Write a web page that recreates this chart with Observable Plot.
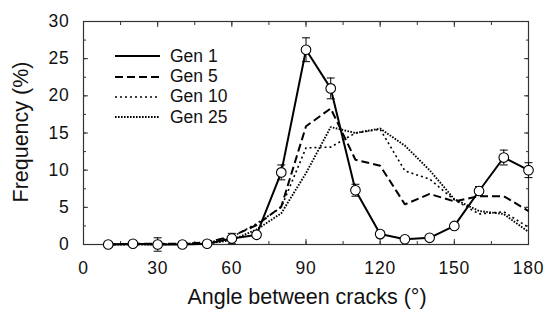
<!DOCTYPE html>
<html>
<head>
<meta charset="utf-8">
<script src="https://cdn.jsdelivr.net/npm/d3@7"></script>
<script src="https://cdn.jsdelivr.net/npm/@observablehq/plot@0.6"></script>
<style>
  html, body { margin: 0; padding: 0; background: #fff; }
  #wrap { position: relative; width: 544px; height: 309px; font-family: "Liberation Sans", Arial, sans-serif; color: #111; }
  #wrap svg text { font-size: 17.5px; fill: #111; letter-spacing: 0.8px; }
  #legend { position: absolute; left: 115px; top: 46px; font-size: 17.5px; }
  #legend .row { display: flex; align-items: center; height: 20.4px; }
  #legend svg { margin-right: 10px; }
  .axlabel { position: absolute; font-size: 21.5px; white-space: nowrap; line-height: 1; }
  #xlabel { left: 307px; top: 287px; transform: translateX(-50%); }
  #ylabel { left: 22px; top: 132px; transform: translate(-50%, -50%) rotate(-90deg); }
</style>
</head>
<body>
<div id="wrap"></div>
<script>
const angles = [10,20,30,40,50,60,70,80,90,100,110,120,130,140,150,160,170,180];
const gen1    = [0,0.1,0,0,0.1,0.8,1.3,9.7,26.2,21.0,7.3,1.4,0.7,0.9,2.5,7.2,11.7,10.0];
const gen1Err = [0,0.1,0.9,0.1,0.1,0.7,0.3,1.0,1.6,1.4,0.8,0.4,0.2,0.3,0.3,0.6,1.0,1.0];
const gen5    = [0,0.1,0.1,0.1,0.3,1.1,2.6,5.1,15.9,18.3,11.4,10.6,5.4,6.8,5.8,6.5,6.5,4.5];
const gen10   = [0,0,0.1,0.1,0.2,1.0,2.8,5.0,13.0,13.1,15.0,15.5,9.9,8.8,6.0,4.1,4.4,2.3];
const gen25   = [0,0,0,0.1,0.1,0.6,2.0,4.2,9.6,15.8,15.0,15.6,13.3,10.0,6.1,4.5,4.1,1.7];
const seriesNames = ["Gen 1", "Gen 5", "Gen 10", "Gen 25"];
const xTicks = [0,30,60,90,120,150,180];
const yTicks = [0,5,10,15,20,25,30];
const xTitle = "Angle between cracks (°)";
const yTitle = "Frequency (%)";

const styles = {
  "Gen 1":  {strokeWidth: 2, dash: null},
  "Gen 5":  {strokeWidth: 2, dash: "8,4"},
  "Gen 10": {strokeWidth: 1.6, dash: "2,3"},
  "Gen 25": {strokeWidth: 1.9, dash: "1.6,1.4"}
};

const rows = (vals, name) => angles.map((a, i) => ({x: a, y: vals[i], series: name}));
const d1 = angles.map((a, i) => ({x: a, y: gen1[i], lo: gen1[i] - gen1Err[i], hi: gen1[i] + gen1Err[i]}));

const cap = {draw(ctx, size) { const r = Math.sqrt(size / Math.PI); ctx.moveTo(-r, 0); ctx.lineTo(r, 0); }};

const lineMark = (vals, name) => Plot.line(rows(vals, name), {
  x: "x", y: "y", stroke: "#000", strokeWidth: styles[name].strokeWidth,
  strokeDasharray: styles[name].dash, strokeLinejoin: "miter", strokeLinecap: "butt"
});

const minorX = d3.range(0, 181, 15);
const minorY = d3.range(0, 30.01, 2.5);

const chart = Plot.plot({
  width: 544, height: 309,
  marginLeft: 83, marginRight: 16, marginTop: 21, marginBottom: 65,
  style: {fontFamily: "'Liberation Sans', Arial, sans-serif", fontSize: "17.5px", color: "#111", background: "#fff"},
  x: {domain: [0, 180]},
  y: {domain: [0, 30]},
  marks: [
    Plot.axisX(minorX, {anchor: "bottom", tickSize: -3, text: null, label: null, stroke: "#333"}),
    Plot.axisX(xTicks, {anchor: "bottom", tickSize: -5, text: null, label: null, stroke: "#333"}),
    Plot.axisX(minorX, {anchor: "top", tickSize: -3, text: null, label: null, stroke: "#333"}),
    Plot.axisX(xTicks, {anchor: "top", tickSize: -5, text: null, label: null, stroke: "#333"}),
    Plot.axisY(minorY, {anchor: "left", tickSize: -3, text: null, label: null, stroke: "#333"}),
    Plot.axisY(yTicks, {anchor: "left", tickSize: -5, text: null, label: null, stroke: "#333"}),
    Plot.axisY(minorY, {anchor: "right", tickSize: -3, text: null, label: null, stroke: "#333"}),
    Plot.axisY(yTicks, {anchor: "right", tickSize: -5, text: null, label: null, stroke: "#333"}),
    Plot.axisX(xTicks, {anchor: "bottom", tickSize: 0, tickPadding: 17, label: null}),
    Plot.axisY(yTicks, {anchor: "left", tickSize: 0, tickPadding: 14, label: null}),
    Plot.frame({stroke: "#333", strokeWidth: 1.2}),
    lineMark(gen25, "Gen 25"),
    lineMark(gen10, "Gen 10"),
    lineMark(gen5, "Gen 5"),
    lineMark(gen1, "Gen 1"),
    Plot.ruleX(d1, {x: "x", y1: "lo", y2: "hi", stroke: "#000", strokeWidth: 1}),
    Plot.dot(d1, {x: "x", y: "hi", symbol: cap, r: 4, stroke: "#000", strokeWidth: 1, fill: "none"}),
    Plot.dot(d1, {x: "x", y: "lo", symbol: cap, r: 4, stroke: "#000", strokeWidth: 1, fill: "none"}),
    Plot.dot(d1, {x: "x", y: "y", r: 4.8, fill: "#fff", stroke: "#000", strokeWidth: 1.1})
  ]
});

const wrap = document.getElementById("wrap");
wrap.appendChild(chart);

const xl = document.createElement("div");
xl.className = "axlabel"; xl.id = "xlabel"; xl.textContent = xTitle;
const yl = document.createElement("div");
yl.className = "axlabel"; yl.id = "ylabel"; yl.textContent = yTitle;
wrap.appendChild(xl); wrap.appendChild(yl);

const legend = document.createElement("div");
legend.id = "legend";
seriesNames.forEach(name => {
  const row = document.createElement("div");
  row.className = "row";
  const s = styles[name];
  row.innerHTML = `<svg width="45" height="6"><line x1="0" y1="3" x2="45" y2="3" stroke="#000" stroke-width="${s.strokeWidth}" ${s.dash ? `stroke-dasharray="${s.dash}"` : ""}/></svg><span>${name}</span>`;
  legend.appendChild(row);
});
wrap.appendChild(legend);
</script>
</body>
</html>
